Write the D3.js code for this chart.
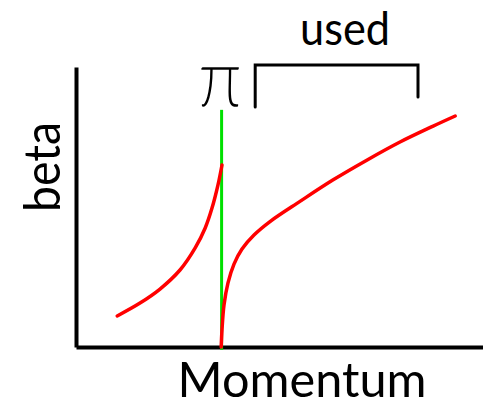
<!DOCTYPE html>
<html>
<head>
<meta charset="utf-8">
<script src="https://cdn.jsdelivr.net/npm/d3@7"></script>
<style>
  body { margin: 0; background: #fff; }
  text { font-family: Lato, "Open Sans", sans-serif; fill: #000; }
</style>
</head>
<body>
<svg id="chart" width="483" height="407"></svg>
<script>
// momentum / beta sketch
const belowMomentum = [1.03, 1.60, 2.10, 2.60, 2.98, 3.23, 3.40, 3.55, 3.65];
const belowBeta     = [0.111, 0.157, 0.207, 0.275, 0.354, 0.425, 0.496, 0.579, 0.650];
const aboveMomentum = [3.63, 3.65, 3.70, 3.80, 3.95, 4.15, 4.45, 4.85, 5.60, 6.43, 7.28, 8.10, 8.93, 9.48];
const aboveBeta     = [0, 0.061, 0.150, 0.229, 0.296, 0.350, 0.400, 0.448, 0.520, 0.597, 0.668, 0.732, 0.789, 0.825];
const threshold = 3.64;
const usedRange = [4.48, 8.55];
const labels = {x: 'Momentum', y: 'beta', used: 'used', marker: 'π'};

const svg = d3.select('#chart');

const x = d3.scaleLinear().domain([0, 10.2]).range([76, 484]);
const y = d3.scaleLinear().domain([0, 1]).range([347, 67]);

// axes, no ticks
svg.append('g')
    .attr('transform', `translate(0,${y(0)})`)
    .call(d3.axisBottom(x).tickValues([]).tickSizeOuter(0))
    .call(g => g.select('.domain').attr('stroke', '#000').attr('stroke-width', 4));
svg.append('g')
    .attr('transform', `translate(${x(0)},0)`)
    .call(d3.axisLeft(y).tickValues([]).tickSizeOuter(0))
    .call(g => g.select('.domain').attr('stroke', '#000').attr('stroke-width', 4));

// threshold line
svg.append('line')
    .attr('x1', x(threshold)).attr('x2', x(threshold))
    .attr('y1', y(0.847)).attr('y2', y(-0.01))
    .attr('stroke', '#00e000')
    .attr('stroke-width', 3);

const line = d3.line()
    .x(d => x(d[0]))
    .y(d => y(d[1]))
    .curve(d3.curveCatmullRom.alpha(0.5));

const drawCurve = (xs, ys) => {
    svg.append('path')
        .datum(xs.map((v, i) => [v, ys[i]]))
        .attr('d', line)
        .attr('fill', 'none')
        .attr('stroke', '#ff0000')
        .attr('stroke-width', 3.5)
        .attr('stroke-linecap', 'round');
};
drawCurve(belowMomentum, belowBeta);
drawCurve(aboveMomentum, aboveBeta);

// bracket over the used range
const bTop = y(1.007);
svg.append('path')
    .attr('d', `M${x(usedRange[0])},${y(0.857)} L${x(usedRange[0])},${bTop} L${x(usedRange[1])},${bTop} L${x(usedRange[1])},${y(0.893)}`)
    .attr('fill', 'none')
    .attr('stroke', '#000')
    .attr('stroke-width', 3)
    .attr('stroke-linecap', 'round');

svg.append('text')
    .attr('x', 345).attr('y', 45)
    .attr('text-anchor', 'middle')
    .attr('font-size', 46)
    .attr('textLength', 90)
    .attr('lengthAdjust', 'spacingAndGlyphs')
    .text(labels.used);

// hand-drawn looking pi over the threshold line
svg.append('text')
    .attr('transform', `translate(220,106) scale(1.45,1.55)`)
    .attr('text-anchor', 'middle')
    .attr('font-family', 'DejaVu Sans')
    .attr('font-weight', 200)
    .attr('font-size', 50)
    .attr('stroke', '#000')
    .attr('stroke-width', 1.1)
    .text(labels.marker);

svg.append('text')
    .attr('x', 302).attr('y', 397)
    .attr('text-anchor', 'middle')
    .attr('font-size', 48)
    .attr('textLength', 249)
    .attr('lengthAdjust', 'spacingAndGlyphs')
    .text(labels.x);

svg.append('text')
    .attr('transform', 'translate(60,167) rotate(-90)')
    .attr('text-anchor', 'middle')
    .attr('font-size', 50)
    .attr('textLength', 90)
    .attr('lengthAdjust', 'spacingAndGlyphs')
    .text(labels.y);
</script>
</body>
</html>
